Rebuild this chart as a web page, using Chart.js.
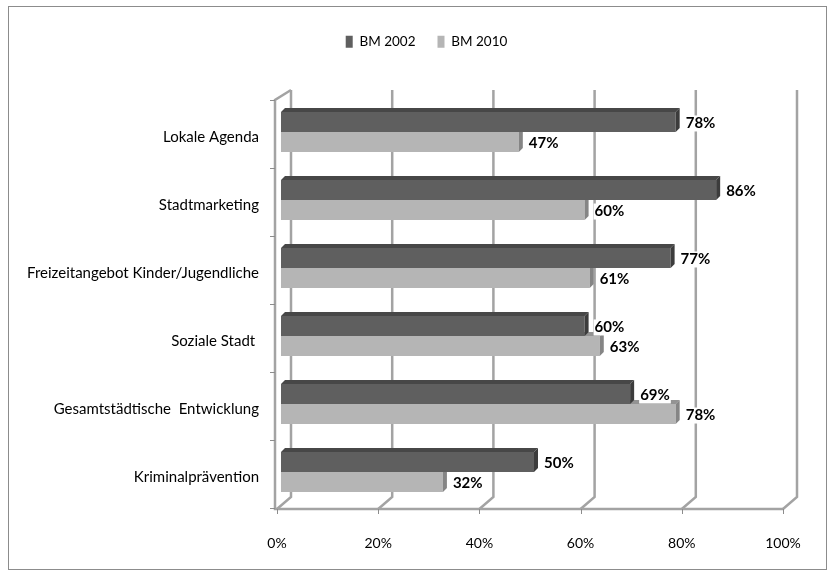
<!DOCTYPE html>
<html>
<head>
<meta charset="utf-8">
<title>BM 2002 / BM 2010</title>
<script src="https://cdn.jsdelivr.net/npm/chart.js@4.4.0/dist/chart.umd.min.js"></script>
<style>
  html, body { margin: 0; padding: 0; background: #fff; }
  #wrap { width: 836px; height: 580px; }
</style>
</head>
<body>
<div id="wrap"><canvas id="chart" width="836" height="580"></canvas></div>
<script>
/* Data */
const CATEGORIES = ['Lokale Agenda', 'Stadtmarketing', 'Freizeitangebot Kinder/Jugendliche', 'Soziale Stadt ', 'Gesamtstädtische  Entwicklung', 'Kriminalprävention'];
const BM_2002 = [78, 86, 77, 60, 69, 50];
const BM_2010 = [47, 60, 61, 63, 78, 32];
const SERIES_NAMES = ['BM 2002', 'BM 2010'];
const X_TICKS = [0, 20, 40, 60, 80, 100];

const FONT = 'Lato, "Open Sans", sans-serif';
const DEPTH = 4;           // visible 3d face on the bars
const FACE = [
    { front: '#5f5f5f', top: '#474747', side: '#3c3c3c' },
    { front: '#b5b5b5', top: '#939393', side: '#858585' },
];

Chart.defaults.font.family = FONT;
Chart.defaults.color = '#000';

// outer frame of the chart
const framePlugin = {
    id: 'frame',
    beforeDraw(chart) {
        const ctx = chart.ctx;
        ctx.save();
        ctx.fillStyle = '#fff';
        ctx.fillRect(0, 0, chart.width, chart.height);
        ctx.strokeStyle = '#8c8c8c';
        ctx.lineWidth = 1;
        ctx.strokeRect(8.5, 6.5, 818, 563);
        ctx.restore();
    }
};

// back wall gridlines, left wall and floor edge (pseudo 3d)
const wallPlugin = {
    id: 'wall3d',
    beforeDatasetsDraw(chart) {
        const { ctx, chartArea: a, scales: { x } } = chart;
        const top = a.top - 8, backBottom = a.bottom - 9, front = a.bottom + 3;
        ctx.save();
        ctx.strokeStyle = '#a3a3a3';
        ctx.lineWidth = 2.5;
        X_TICKS.forEach(v => {
            const xb = x.getPixelForValue(v) + 10;
            ctx.beginPath();
            ctx.moveTo(xb, top);
            ctx.lineTo(xb, backBottom);
            ctx.lineTo(xb - 14, front);
            ctx.stroke();
        });
        // left wall
        const wx = a.left - 6;
        ctx.beginPath();
        ctx.moveTo(x.getPixelForValue(0) + 10, top);
        ctx.lineTo(wx, a.top + 2);
        ctx.lineTo(wx, front);
        ctx.lineTo(x.getPixelForValue(100) - 4, front);
        ctx.stroke();
        // small ticks
        ctx.lineWidth = 1;
        ctx.strokeStyle = '#8c8c8c';
        const band = (a.bottom - a.top) / CATEGORIES.length;
        for (let i = 0; i <= CATEGORIES.length; i++) {
            const y = Math.round(a.top + 2 + i * band) + 0.5;
            ctx.beginPath();
            ctx.moveTo(wx - 5, y);
            ctx.lineTo(wx, y);
            ctx.stroke();
        }
        X_TICKS.forEach(v => {
            const xt = Math.round(x.getPixelForValue(v) - 4) + 0.5;
            ctx.beginPath();
            ctx.moveTo(xt, front);
            ctx.lineTo(xt, front + 5);
            ctx.stroke();
        });
        ctx.restore();
    }
};

// top and end faces of each bar
const barFacePlugin = {
    id: 'bar3d',
    afterDatasetDraw(chart, args) {
        const ctx = chart.ctx;
        const face = FACE[args.index];
        ctx.save();
        args.meta.data.forEach(el => {
            const { x, y, base, height } = el.getProps(['x', 'y', 'base', 'height'], true);
            const t = y - height / 2, b = y + height / 2;
            ctx.fillStyle = face.top;
            ctx.beginPath();
            ctx.moveTo(base, t);
            ctx.lineTo(x, t);
            ctx.lineTo(x + DEPTH, t - DEPTH);
            ctx.lineTo(base + DEPTH, t - DEPTH);
            ctx.closePath();
            ctx.fill();
            ctx.fillStyle = face.side;
            ctx.beginPath();
            ctx.moveTo(x, t);
            ctx.lineTo(x + DEPTH, t - DEPTH);
            ctx.lineTo(x + DEPTH, b - DEPTH);
            ctx.lineTo(x, b);
            ctx.closePath();
            ctx.fill();
        });
        ctx.restore();
    }
};

// value labels at the end of each bar
const valueLabelPlugin = {
    id: 'valueLabels',
    afterDatasetsDraw(chart) {
        const ctx = chart.ctx;
        ctx.save();
        ctx.font = 'bold 15px ' + FONT;
        ctx.textBaseline = 'middle';
        chart.data.datasets.forEach((ds, di) => {
            chart.getDatasetMeta(di).data.forEach((el, i) => {
                const txt = ds.data[i] + '%';
                const tx = el.x + 10, ty = el.y + 1.5;
                const w = ctx.measureText(txt).width;
                ctx.fillStyle = '#fff';
                ctx.fillRect(tx - 1, ty - 8, w + 2, 16);
                ctx.fillStyle = '#000';
                ctx.fillText(txt, tx, ty);
            });
        });
        ctx.restore();
    }
};

// fixed legend height so the plot starts where it does in the picture,
// and the legend sits a bit right of the canvas centre like the original
const legendPlacePlugin = {
    id: 'legendPlace',
    beforeInit(chart) {
        const fit = chart.legend.fit;
        chart.legend.fit = function () {
            fit.bind(chart.legend)();
            this.height = 85;
        };
    },
    afterLayout(chart) {
        chart.legend.left += 33;
        chart.legend.right += 33;
    }
};

new Chart(document.getElementById('chart'), {
    type: 'bar',
    data: {
        labels: CATEGORIES,
        datasets: [
            { label: SERIES_NAMES[0], data: BM_2002, backgroundColor: FACE[0].front, borderWidth: 0 },
            { label: SERIES_NAMES[1], data: BM_2010, backgroundColor: FACE[1].front, borderWidth: 0 },
        ]
    },
    options: {
        indexAxis: 'y',
        responsive: false,
        animation: false,
        devicePixelRatio: 1,
        layout: { padding: { top: 13, right: 49, bottom: 0, left: 0 } },
        datasets: { bar: { categoryPercentage: 0.59, barPercentage: 1 } },
        plugins: {
            legend: {
                position: 'top',
                labels: { boxWidth: 7, boxHeight: 12, padding: 22, font: { size: 13.5 }, color: '#000' }
            },
            tooltip: { enabled: false }
        },
        scales: {
            x: {
                min: 0, max: 100,
                afterFit(s) { s.height = 74; },
                afterBuildTicks(s) { s.ticks = X_TICKS.map(v => ({ value: v })); },
                grid: { display: false, drawTicks: false },
                border: { display: false },
                ticks: { callback: v => v + '%', padding: 29, labelOffset: -4, font: { size: 14 }, color: '#000' }
            },
            y: {
                afterFit(s) { s.width = 281; },
                grid: { display: false, drawTicks: false },
                border: { display: false },
                ticks: { padding: 22, labelOffset: 5, font: { size: 15 }, color: '#000' }
            }
        }
    },
    plugins: [framePlugin, wallPlugin, barFacePlugin, valueLabelPlugin, legendPlacePlugin]
});
</script>
</body>
</html>
